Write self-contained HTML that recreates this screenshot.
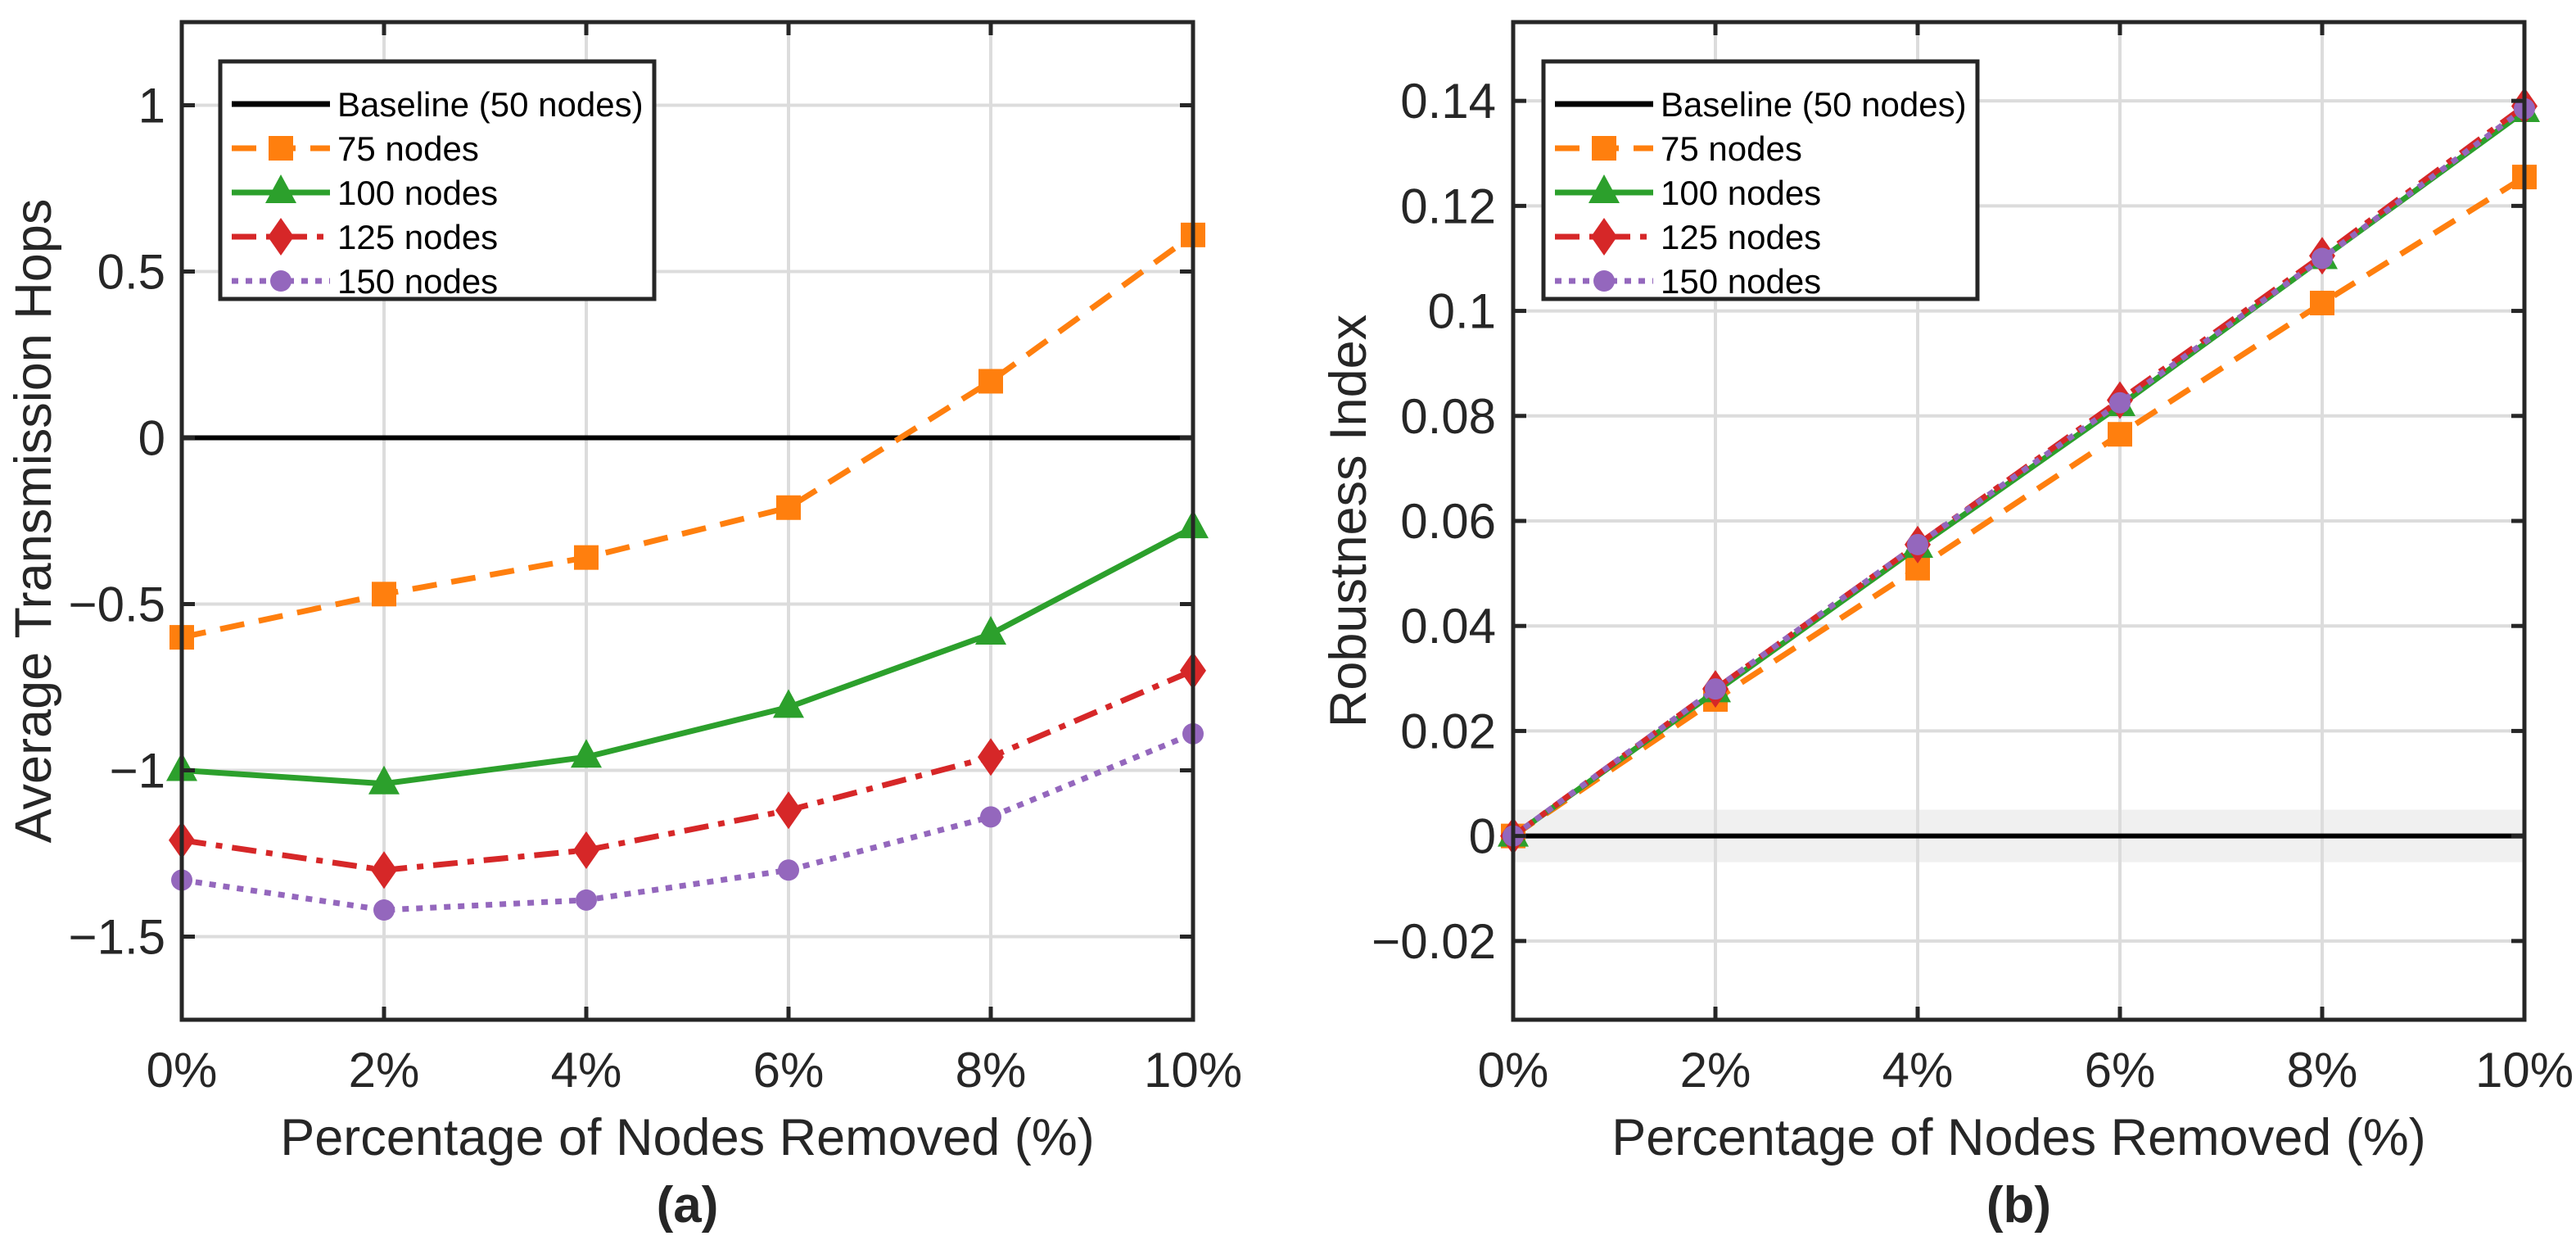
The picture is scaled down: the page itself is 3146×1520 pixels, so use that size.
<!DOCTYPE html>
<html><head><meta charset="utf-8"><style>
html,body{margin:0;padding:0;background:#fff;}
svg{display:block;font-family:"Liberation Sans",Arial,sans-serif;}
</style></head><body>
<svg id="fig" width="3146" height="1520" viewBox="0 0 3146 1520" xmlns="http://www.w3.org/2000/svg"></svg>
<script>
const categories = ["0%","2%","4%","6%","8%","10%"];
const xValues = [0,2,4,6,8,10];
const seriesNames = ["Baseline (50 nodes)","75 nodes","100 nodes","125 nodes","150 nodes"];
const hops75  = [-0.60,-0.47,-0.36,-0.21,0.17,0.61];
const hops100 = [-1.00,-1.04,-0.96,-0.81,-0.59,-0.27];
const hops125 = [-1.21,-1.30,-1.24,-1.12,-0.96,-0.70];
const hops150 = [-1.33,-1.42,-1.39,-1.30,-1.14,-0.89];
const rob75  = [0,0.026,0.051,0.0765,0.1015,0.1255];
const rob100 = [0,0.0275,0.055,0.082,0.110,0.138];
const rob125 = [0,0.028,0.0555,0.083,0.1105,0.139];
const rob150 = [0,0.028,0.0555,0.0825,0.110,0.1385];
const ticksA = [-1.5,-1,-0.5,0,0.5,1];
const tickLabelsA = ["\u22121.5","\u22121","\u22120.5","0","0.5","1"];
const ticksB = [-0.02,0,0.02,0.04,0.06,0.08,0.1,0.12,0.14];
const tickLabelsB = ["\u22120.02","0","0.02","0.04","0.06","0.08","0.1","0.12","0.14"];

const NS="http://www.w3.org/2000/svg";
const svg=document.getElementById('fig');
function mk(tag,attrs,parent){const e=document.createElementNS(NS,tag);for(const k in attrs)e.setAttribute(k,attrs[k]);(parent||svg).appendChild(e);return e;}

const styles=[
 {color:"#000000",dash:"",marker:"none"},
 {color:"#ff7f0e",dash:"30 18",marker:"square"},
 {color:"#2ca02c",dash:"",marker:"triangle"},
 {color:"#d62728",dash:"30 12 8 12",marker:"diamond"},
 {color:"#9467bd",dash:"8 9",marker:"circle"}
];

function marker(g,type,cx,cy,color){
  let m;
  if(type==="square") m=mk('rect',{x:cx-15,y:cy-15,width:30,height:30,fill:color},g);
  else if(type==="triangle") m=mk('polygon',{points:`${cx},${cy-22} ${cx-19},${cy+13} ${cx+19},${cy+13}`,fill:color},g);
  else if(type==="diamond") m=mk('polygon',{points:`${cx},${cy-23} ${cx+16},${cy} ${cx},${cy+23} ${cx-16},${cy}`,fill:color},g);
  else if(type==="circle") m=mk('circle',{cx:cx,cy:cy,r:13,fill:color},g);
  if(m){}
}

function panel(cfg){
  const {L,R,T,B,ymin,ymax,ticks,tickLabels,series,ylabel,tag,legX,legW,labX,tickRight,band,id}=cfg;
  const g=mk('g',{});
  
  
  const xs=v=>L+(v-0)/(10-0)*(R-L);
  const ys=v=>B-(v-ymin)/(ymax-ymin)*(B-T);
  if(band){const r=mk('rect',{x:L,y:ys(band),width:R-L,height:ys(-band)-ys(band),fill:"#f0f0f0"},g);}
  xValues.forEach(v=>{const l=mk('line',{x1:xs(v),x2:xs(v),y1:T,y2:B,stroke:"#dcdcdc","stroke-width":4},g);});
  ticks.forEach(v=>{const l=mk('line',{x1:L,x2:R,y1:ys(v),y2:ys(v),stroke:"#dcdcdc","stroke-width":4},g);});
  const bl=mk('line',{x1:L,x2:R,y1:ys(0),y2:ys(0),stroke:"#000","stroke-width":6},g);
  
  series.forEach((arr,i)=>{
    const st=styles[i+1];
    const pts=arr.map((v,j)=>xs(xValues[j])+","+ys(v)).join(" ");
    const pl=mk('polyline',{points:pts,fill:"none",stroke:st.color,"stroke-width":7,"stroke-dasharray":st.dash,"stroke-linejoin":"round"},g);
    
    
    arr.forEach((v,j)=>marker(g,st.marker,xs(xValues[j]),ys(v),st.color));
  });
  xValues.forEach(v=>{mk('line',{x1:xs(v),x2:xs(v),y1:T,y2:T+16,stroke:"#262626","stroke-width":5},g);mk('line',{x1:xs(v),x2:xs(v),y1:B,y2:B-16,stroke:"#262626","stroke-width":5},g);});
  ticks.forEach(v=>{mk('line',{x1:L,x2:L+16,y1:ys(v),y2:ys(v),stroke:"#262626","stroke-width":5},g);mk('line',{x1:R,x2:R-16,y1:ys(v),y2:ys(v),stroke:"#262626","stroke-width":5},g);});
  const fr=mk('rect',{x:L,y:T,width:R-L,height:B-T,fill:"none",stroke:"#262626","stroke-width":5},g);
  
  categories.forEach((c,j)=>{const t=mk('text',{x:xs(xValues[j]),y:1327,"text-anchor":"middle","font-size":60,fill:"#262626"},g);t.textContent=c;});
  ticks.forEach((v,j)=>{const t=mk('text',{x:tickRight,y:ys(v)+21,"text-anchor":"end","font-size":60,fill:"#262626"},g);t.textContent=tickLabels[j];});
  const xl=mk('text',{x:(L+R)/2,y:1410,"text-anchor":"middle","font-size":63,fill:"#262626"},g);
  xl.textContent="Percentage of Nodes Removed (%)";
  const yl=mk('text',{x:labX,y:(T+B)/2,"text-anchor":"middle","font-size":63,fill:"#262626",transform:`rotate(-90 ${labX} ${(T+B)/2})`},g);
  yl.textContent=ylabel;
  const tg=mk('text',{x:(L+R)/2,y:1492,"text-anchor":"middle","font-size":62,"font-weight":"bold",fill:"#262626"},g);
  tg.textContent=tag;
  const lg=mk('g',{},g);
  
  mk('rect',{x:legX,y:75,width:legW,height:290,fill:"#fff",stroke:"#262626","stroke-width":5},lg);
  const rows=[127,181,235,289,343];
  seriesNames.forEach((n,i)=>{
    const st=styles[i];
    const e=mk('g',{},lg);
    
    mk('line',{x1:legX+14,x2:legX+134,y1:rows[i],y2:rows[i],stroke:st.color,"stroke-width":7,"stroke-dasharray":st.dash},e);
    marker(e,st.marker,legX+74,rows[i],st.color);
    const t=mk('text',{x:legX+143,y:rows[i]+15,"font-size":42,fill:"#000"},e);t.textContent=n;
  });
}

panel({id:'panel-a',L:222,R:1457,T:27,B:1245,ymin:-1.75,ymax:1.25,ticks:ticksA,tickLabels:tickLabelsA,series:[hops75,hops100,hops125,hops150],ylabel:"Average Transmission Hops",tag:"(a)",legX:269,legW:530,labX:62,tickRight:202,band:0});
panel({id:'panel-b',L:1848,R:3083,T:27,B:1245,ymin:-0.035,ymax:0.155,ticks:ticksB,tickLabels:tickLabelsB,series:[rob75,rob100,rob125,rob150],ylabel:"Robustness Index",tag:"(b)",legX:1885,legW:530,labX:1668,tickRight:1827,band:0.005});
</script>
</body></html>
